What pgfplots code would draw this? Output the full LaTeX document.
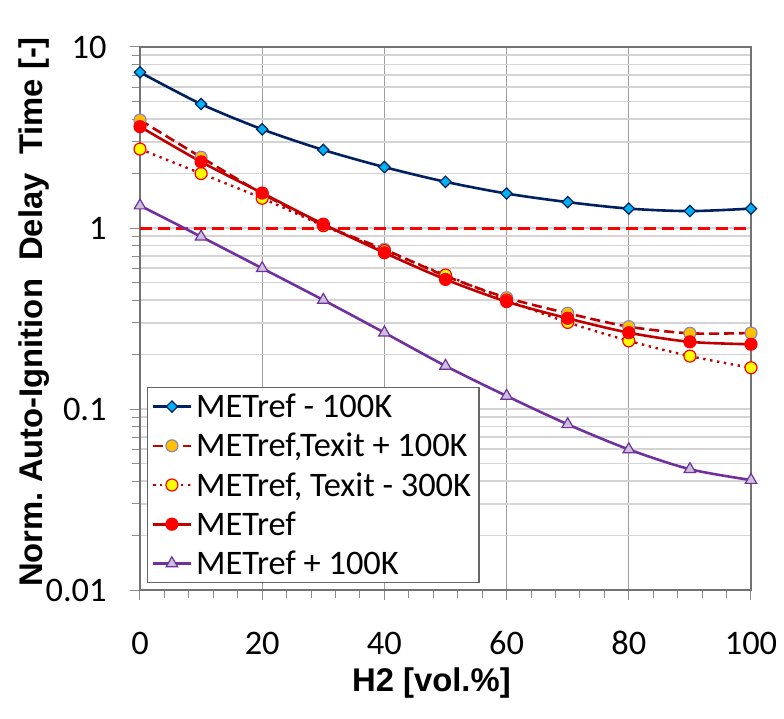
\documentclass[border=0pt]{standalone}
\usepackage{fontspec}
\setmainfont{Carlito}
\newfontfamily\arial{Liberation Sans}
\usepackage{pgfplots}
\pgfplotsset{compat=1.18}
\definecolor{navy}{HTML}{002060}
\definecolor{ltblue}{HTML}{00B0F0}
\definecolor{dkred}{HTML}{C00000}
\definecolor{brred}{HTML}{FF0000}
\definecolor{gold}{HTML}{FFC000}
\definecolor{lavedge}{HTML}{8E86B8}
\definecolor{yel}{HTML}{FFFF00}
\definecolor{purp}{HTML}{7030A0}
\definecolor{lavfill}{HTML}{CCC0DA}
\begin{document}
\begin{tikzpicture}
\path[use as bounding box] (-70pt,-64.5pt) rectangle (322pt,295pt);
\begin{axis}[
  at={(0,0)}, anchor=south west,
  scale only axis, width=305.5pt, height=271.5pt,
  xmin=0, xmax=100, ymin=0.01, ymax=10, ymode=log,
  xtick={0,20,40,60,80,100}, xticklabels={0,20,40,60,80,100},
  minor xtick={4,8,12,16,24,28,32,36,44,48,52,56,64,68,72,76,84,88,92,96},
  ytick={0.01,0.1,1,10}, yticklabels={0.01,0.1,1,10},
  minor ytick={0.02,0.03,0.04,0.05,0.06,0.07,0.08,0.09,0.2,0.3,0.4,0.5,0.6,0.7,0.8,0.9,2,3,4,5,6,7,8,9},
  tick pos=left, tick align=outside,
  major tick length=5pt, minor tick length=4pt,
  tick style={color=black!45, line width=0.5pt},
  axis line style={color=black!55, line width=0.6pt},
  xmajorgrids, ymajorgrids, yminorgrids,
  x grid style={color=black!38, line width=0.5pt},
  y grid style={color=black!17, line width=0.9pt},
  ticklabel style={font=\fontsize{17.2}{20.6}\selectfont, text=black},
  yticklabel style={anchor=east, inner sep=0pt, xshift=-11.5pt},
  xticklabel style={anchor=base, inner sep=0pt, yshift=-27.5pt},
  xlabel={\arial\bfseries H2 [vol.\%]},
  ylabel={\arial\bfseries Norm.\ Auto-Ignition\ \ Delay\ \ Time [-]},
  label style={font=\fontsize{16.4}{19.5}\selectfont},
  xlabel style={at={(axis description cs:0.477,-0.1878)}, anchor=base, inner sep=0pt},
  ylabel style={at={(axis description cs:-0.1588,0.512)}, anchor=base, inner sep=0pt},
  legend style={at={(axis description cs:0.0115,0.0129)}, anchor=south west,
    draw=black!60, fill=white, line width=0.6pt,
    font=\fontsize{17.2}{20.6}\selectfont,
    inner xsep=2pt, inner ysep=0pt, row sep=0.6pt,
    nodes={inner ysep=0pt, text height=15pt, text depth=4pt}},
  legend cell align=left,
  legend image code/.code={\draw[mark repeat=2,mark phase=2,#1] plot coordinates {(0pt,0pt) (9.5pt,0pt) (19pt,0pt)};},
]
\addplot[forget plot, brred, line width=1.5pt, dash pattern=on 6pt off 3pt] coordinates {(0,1) (100,1)};
\addplot[navy, line width=1.3pt, smooth, mark=square*, mark size=2pt,
  mark options={rotate=45, solid, fill=ltblue, draw=navy, line width=0.6pt}]
  coordinates {(0,7.25)(10,4.84)(20,3.51)(30,2.70)(40,2.17)(50,1.80)(60,1.55)(70,1.39)(80,1.28)(90,1.24)(100,1.28)};
\addlegendentry{METref - 100K}
\addplot[dkred, line width=1.3pt, smooth, dash pattern=on 5pt off 2.5pt, mark=*, mark size=3pt,
  mark options={solid, fill=gold, draw=lavedge, line width=0.6pt}]
  coordinates {(0,3.95)(10,2.46)(20,1.55)(30,1.04)(40,0.762)(50,0.543)(60,0.412)(70,0.338)(80,0.285)(90,0.262)(100,0.263)};
\addlegendentry{METref,Texit + 100K}
\addplot[dkred, line width=1.2pt, smooth, dash pattern=on 1.2pt off 2.3pt, mark=*, mark size=3pt,
  mark options={solid, fill=yel, draw=brred, line width=0.6pt}]
  coordinates {(0,2.73)(10,2.00)(20,1.46)(30,1.03)(40,0.75)(50,0.55)(60,0.40)(70,0.301)(80,0.238)(90,0.196)(100,0.169)};
\addlegendentry{METref, Texit - 300K}
\addplot[dkred, line width=1.3pt, smooth, mark=*, mark size=3pt,
  mark options={solid, fill=brred, draw=brred, line width=0.6pt}]
  coordinates {(0,3.63)(10,2.32)(20,1.56)(30,1.05)(40,0.73)(50,0.52)(60,0.392)(70,0.317)(80,0.264)(90,0.235)(100,0.228)};
\addlegendentry{METref}
\addplot[purp, line width=1.3pt, smooth, mark=triangle*, mark size=3.3pt,
  mark options={solid, fill=lavfill, draw=purp, line width=0.6pt}]
  coordinates {(0,1.33)(10,0.895)(20,0.599)(30,0.400)(40,0.264)(50,0.173)(60,0.118)(70,0.0823)(80,0.0598)(90,0.0465)(100,0.0405)};
\addlegendentry{METref + 100K}
\end{axis}
\end{tikzpicture}
\end{document}
